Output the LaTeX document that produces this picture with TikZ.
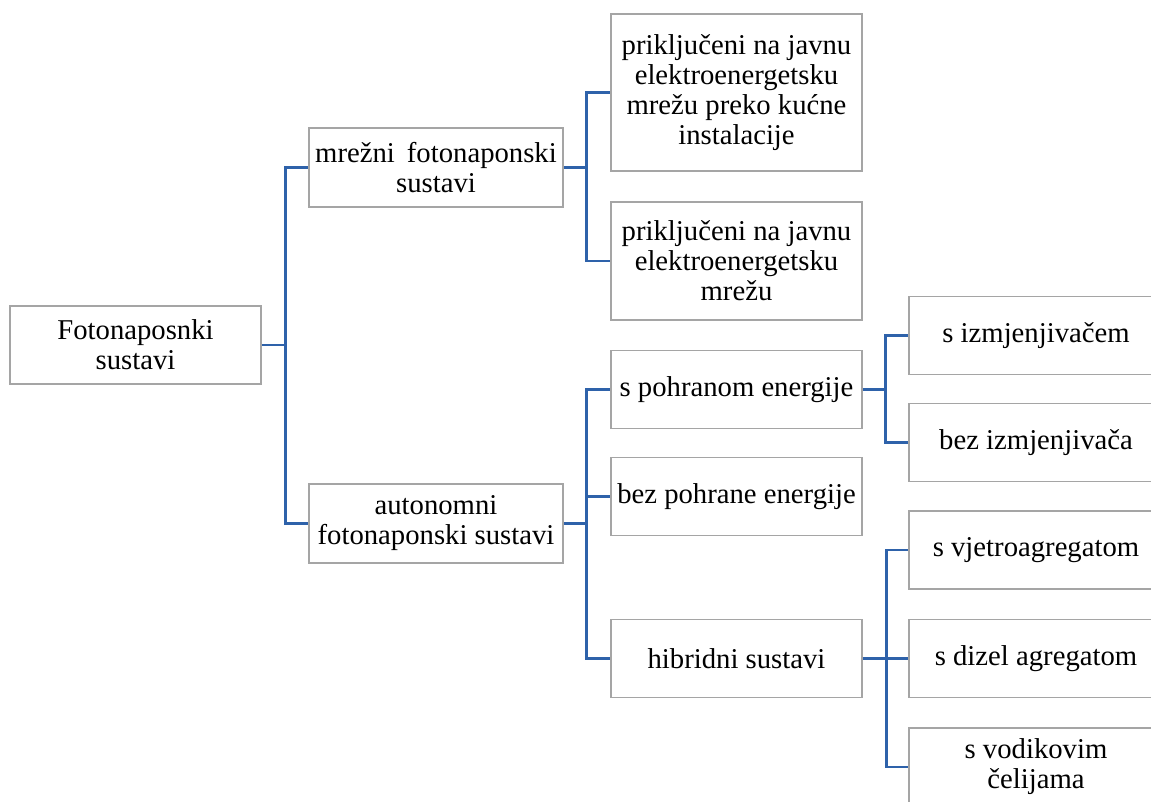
\documentclass[tikz,border=0pt]{standalone}
\usepackage{fontspec}
\setmainfont{Liberation Serif}
\definecolor{conn}{RGB}{46,98,170}
\definecolor{boxgray}{RGB}{165,165,165}
\tikzset{
  box/.style={draw=boxgray, line width=1.8pt, fill=white, inner sep=0pt, align=center,
    font=\fontsize{28.7}{30}\selectfont},
  rootbox/.style={box, minimum width=251pt, minimum height=78pt},
  lvtwo/.style={box, minimum width=254pt, minimum height=79pt},
  lvthree/.style={box, minimum width=251pt, minimum height=78pt},
  lvfour/.style={box, minimum width=254pt, minimum height=78pt},
  link/.style={draw=conn, line width=2.9pt}
}
\begin{document}
\begin{tikzpicture}[x=1pt, y=-1pt]
\useasboundingbox (0,0) rectangle (1151,801);
\clip (0,0) rectangle (1151,801);
% level 1
\node[rootbox] (root) at (135.5,345) {Fotonaposnki\\sustavi};
% level 2
\node[lvtwo] (mrez) at (436,167.5) {mrežni\hspace{12pt}fotonaponski\\sustavi};
\node[lvtwo] (auto) at (436,523.5) {autonomni\\fotonaponski sustavi};
% level 3
\node[lvthree, minimum height=157pt] (pa) at (736.5,92.5) {priključeni na javnu\\elektroenergetsku\\mrežu preko kućne\\instalacije};
\node[lvthree, minimum height=118pt] (pb) at (736.5,261) {priključeni na javnu\\elektroenergetsku\\mrežu};
\node[lvthree] (spoh) at (736.5,389.5) {s pohranom energije};
\node[lvthree] (bpoh) at (736.5,496.5) {bez pohrane energije};
\node[lvthree] (hib) at (736.5,658.5) {hibridni sustavi};
% level 4
\node[lvfour] (izm) at (1036,335.5) {s izmjenjivačem};
\node[lvfour] (bizm) at (1036,442.5) {bez izmjenjivača};
\node[lvfour] (vje) at (1036,550) {s vjetroagregatom};
\node[lvfour] (diz) at (1036,658.5) {s dizel agregatom};
\node[lvfour] (vod) at (1036,767) {s vodikovim\\čelijama};
% connectors
\draw[link] (root.east) -- ++(24,0) coordinate (j1);
\draw[link] (j1) |- (mrez.west);
\draw[link] (j1) |- (auto.west);
\draw[link] (mrez.east) -- ++(23,0) coordinate (j2);
\draw[link] (j2) |- (pa.west);
\draw[link] (j2) |- (pb.west);
\draw[link] (auto.east) -- ++(23,0) coordinate (j3);
\draw[link] (j3) |- (spoh.west);
\draw[link] (j3) |- (bpoh.west);
\draw[link] (j3) |- (hib.west);
\draw[link] (spoh.east) -- ++(23,0) coordinate (j4);
\draw[link] (j4) |- (izm.west);
\draw[link] (j4) |- (bizm.west);
\draw[link] (hib.east) -- ++(24,0) coordinate (j5);
\draw[link] (j5) |- (vje.west);
\draw[link] (j5) |- (diz.west);
\draw[link] (j5) |- (vod.west);
\end{tikzpicture}
\end{document}
